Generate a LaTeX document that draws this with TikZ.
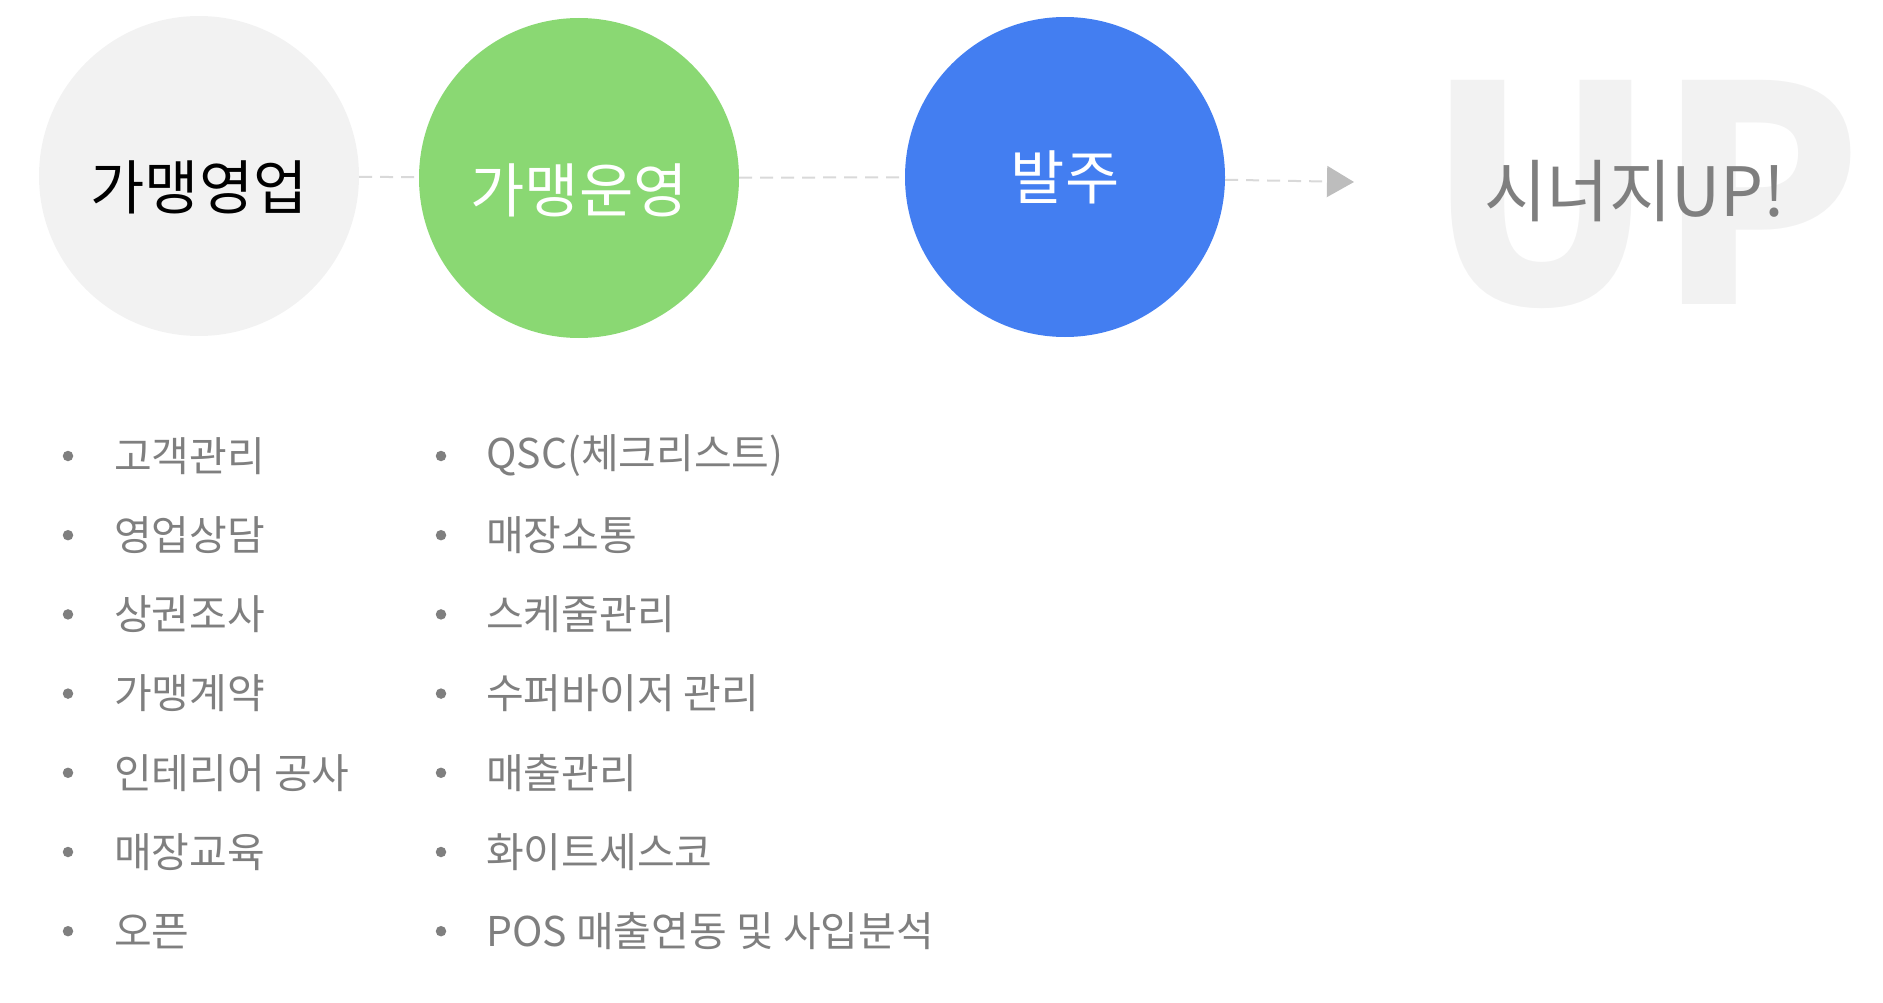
\documentclass[tikz,border=0pt]{standalone}
\usepackage{fontspec}
\setmainfont{Noto Sans CJK KR}
\usepackage{xcolor}
\usetikzlibrary{arrows.meta,positioning}
\definecolor{stagegray}{HTML}{F2F2F2}
\definecolor{stagegreen}{HTML}{8AD873}
\definecolor{stageblue}{HTML}{437EF1}
\definecolor{linegray}{HTML}{D9D9D9}
\definecolor{tipgray}{HTML}{BDBDBD}
\definecolor{textgray}{HTML}{7F7F7F}
\tikzset{
  stage/.style={circle,minimum size=320pt,inner sep=0pt},
  stagetext/.style={inner sep=0pt,font=\fontsize{59}{64}\selectfont},
  link/.style={linegray,line width=2pt,dash pattern=on 13pt off 8pt},
  bulletdot/.style={circle,fill=textgray,inner sep=0pt,minimum size=10.5pt},
  item/.style={textgray,anchor=west,inner sep=0pt,font=\fontsize{41}{46}\selectfont},
  bigup/.style={stagegray,inner sep=0pt,font=\fontsize{301}{301}\selectfont\bfseries},
  synergy/.style={textgray,inner sep=0pt,font=\fontsize{68}{72}\selectfont}
}

\begin{document}
\begin{tikzpicture}[x=1pt,y=-1pt]
\useasboundingbox (0,0) rectangle (1883,1003);
% background word
\node[bigup] (up) at (1645,194) {UP};
\node[synergy] (syn) at (1635,191) {시너지UP!};
% stages
\node[stage,fill=stagegray] (c1) at (199,176) {};
\node[stage,fill=stagegreen] (c2) at (579,178) {};
\node[stage,fill=stageblue] (c3) at (1065,177) {};
\node[stagetext,black] (t1) at ([yshift=-11pt]c1) {가맹영업};
\node[stagetext,white] (t2) at ([yshift=-12pt]c2) {가맹운영};
\node[stagetext,white] (t3) at (c3) {발주};
\coordinate (tip) at (1354,182);
\draw[link] (c1) -- (c2);
\draw[link] (c2) -- (c3);
\draw[link,-{Triangle[length=27pt,width=31pt,color=tipgray,fill=tipgray]}] (c3) -- (tip);
% lists
\foreach \txt [count=\i] in {고객관리,영업상담,상권조사,가맹계약,인테리어 공사,매장교육,오픈}{
  \node[bulletdot] (dl\i) at (68,{456+79.2*(\i-1)}) {};
  \node[item] (l\i) at (114,{456+79.2*(\i-1)}) {\txt};
}
\foreach \txt [count=\i] in {QSC(체크리스트),매장소통,스케줄관리,수퍼바이저 관리,매출관리,화이트세스코,POS 매출연동 및 사입분석}{
  \node[bulletdot] (dr\i) at (441,{456+79.2*(\i-1)}) {};
  \node[item] (r\i) at (486,{456+79.2*(\i-1)}) {\txt};
}
\end{tikzpicture}
\end{document}
